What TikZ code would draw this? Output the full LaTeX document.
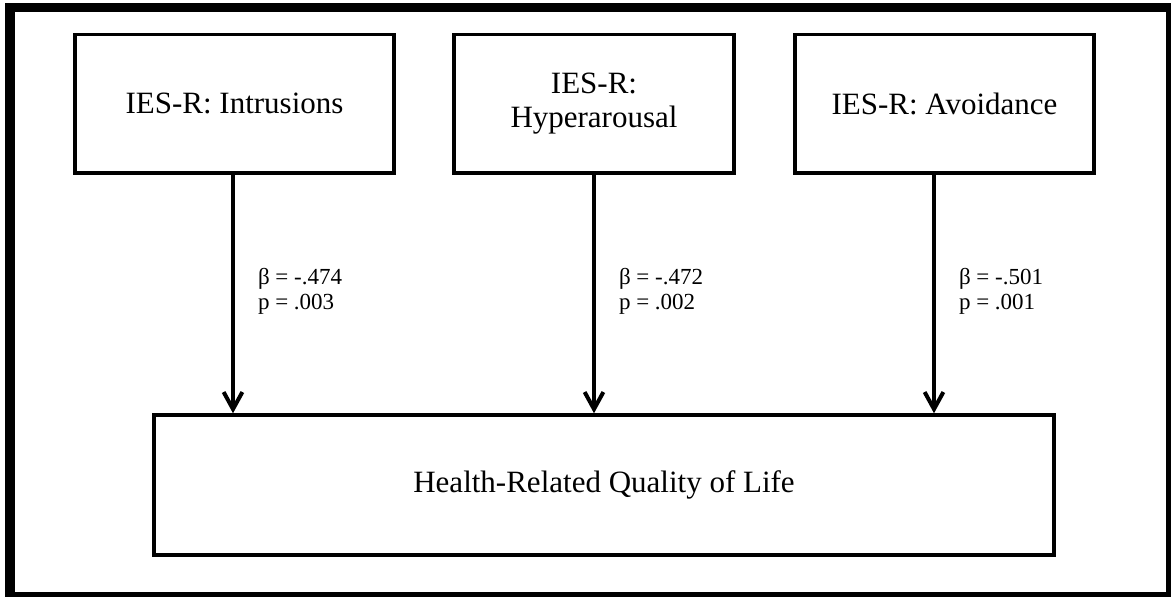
\documentclass[tikz,border=0pt]{standalone}
\usepackage{fontspec}
\setmainfont{Liberation Serif}
\usetikzlibrary{calc,positioning}
\usetikzlibrary{arrows.meta}
\tikzset{>={Straight Barb[width=3.3mm,length=3mm]}}

\begin{document}
\begin{tikzpicture}[x=0.5pt, y=-0.5pt]
          \tikzstyle{vbox} = [draw, line width=1.75pt, rectangle, inner sep = 2pt, align=center,
                              minimum height=69.25pt, font=\fontsize{15.5}{17}\selectfont]
          \tikzstyle{coef} = [anchor=west, inner sep=0pt, xshift=11.5pt, align=left,
                              font=\fontsize{11.5}{12.5}\selectfont]
          \tikzstyle{path} = [->, line width=2pt]
          \useasboundingbox (0,0) rectangle (1171,596);
          % outer frame
          \draw[line width=4.75pt] (10,7.5) rectangle (1171,597);

          \node[vbox, minimum width=159.5pt] (intr) at (234.5, 103.75) {IES-R: Intrusions};
          \node[vbox, minimum width=140pt] (hyper) at (594, 103.75) {IES-R:\\Hyperarousal};
          \node[vbox, minimum width=149.5pt] (avoid) at (944.5, 103.75) {IES-R: Avoidance};

          \node[vbox, minimum width=450pt, minimum height=70pt] (hrql) at (604, 485) {Health-Related Quality of Life};

          \draw[path] ([xshift=-0.75pt]intr.south) -- ([xshift=-0.75pt]intr.south |- hrql.north)
            node[coef, pos=0.49] {β = -.474\\p = .003};
          \draw[path] (hyper.south) -- (hyper.south |- hrql.north)
            node[coef, pos=0.49] {β = -.472\\p = .002};
          \draw[path] ([xshift=-5.25pt]avoid.south) -- ([xshift=-5.25pt]avoid.south |- hrql.north)
            node[coef, pos=0.49] {β = -.501\\p = .001};
        \end{tikzpicture}
\end{document}
